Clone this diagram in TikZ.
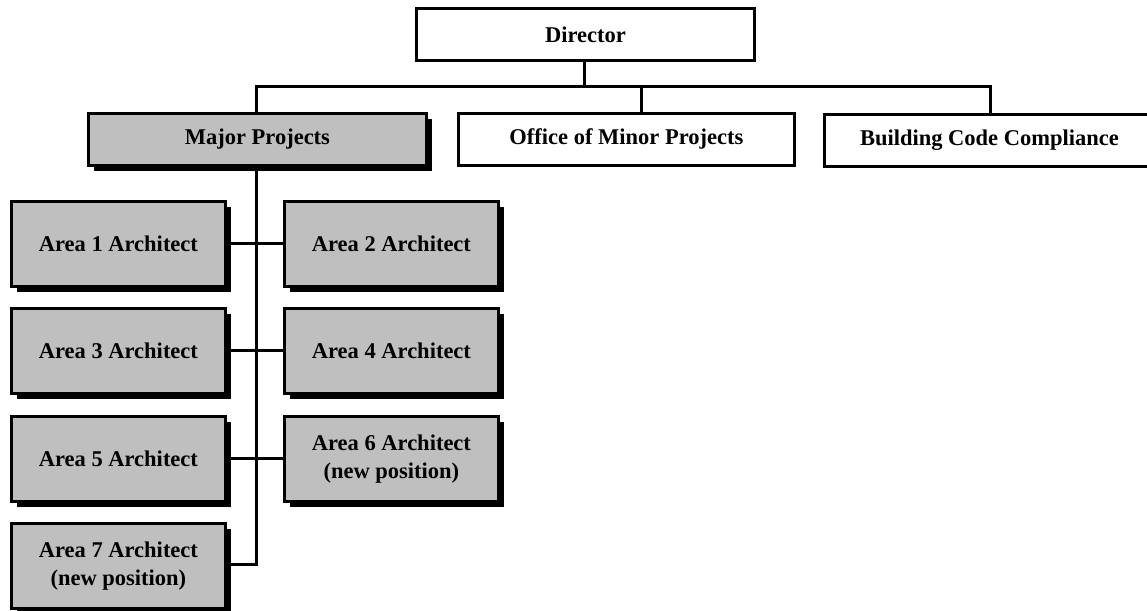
\documentclass[tikz,border=0pt]{standalone}
\usepackage{fontspec}
\setmainfont{Liberation Serif}
\usetikzlibrary{shadows}
\begin{document}
\begin{tikzpicture}[x=1pt,y=-1pt,
  unit/.style={draw=black, line width=2.8pt, anchor=north west, inner sep=0pt,
    align=center, font=\bfseries\fontsize{22.5}{28}\selectfont},
  plainunit/.style={unit, fill=white},
  shadedunit/.style={unit, fill=black!25,
    drop shadow={shadow xshift=6pt, shadow yshift=-6pt, opacity=1, fill=black}},
  headbox/.style={minimum width=#1, minimum height=52pt},
  areabox/.style={shadedunit, minimum width=214pt, minimum height=85pt},
  link/.style={line width=3pt}]
\useasboundingbox (0,0) rectangle (1147,610);

% top level
\node[plainunit, headbox=338pt] (dir) at (415,7) {Director};
\node[shadedunit, headbox=338pt] (major) at (87,112) {Major Projects};
\node[plainunit, headbox=336pt] (minor) at (457,112) {Office of Minor Projects};
\node[plainunit, headbox=330pt] (code) at (823,113) {Building Code Compliance};

% architects
\node[areabox] (a1) at (10,200) {Area 1 Architect};
\node[areabox] (a2) at (283,200) {Area 2 Architect};
\node[areabox] (a3) at (10,307) {Area 3 Architect};
\node[areabox] (a4) at (283,307) {Area 4 Architect};
\node[areabox] (a5) at (10,415) {Area 5 Architect};
\node[areabox] (a6) at (283,415) {Area 6 Architect\\(new position)};
\node[areabox] (a7) at (10,522) {Area 7 Architect\\(new position)};

% bus below the director
\coordinate (bus) at (584,86);
\coordinate (busL) at (256,86);
\coordinate (busR) at (990,86);
\coordinate (busM) at (641,86);
\coordinate (trunkEnd) at (256,564);

\draw[link] (dir.south -| bus) -- (bus);
\draw[link] (major.north -| busL) -- (busL) -- (busR) -- (code.north -| busR);
\draw[link] (busM) -- (minor.north -| busM);

% trunk under major projects
\draw[link] (major.south -| trunkEnd) -- (trunkEnd) -- (a7.east |- trunkEnd);
\draw[link] (a1.east) -- (a2.west);
\draw[link] (a3.east) -- (a4.west);
\draw[link] (a5.east) -- (a6.west);
\end{tikzpicture}
\end{document}
